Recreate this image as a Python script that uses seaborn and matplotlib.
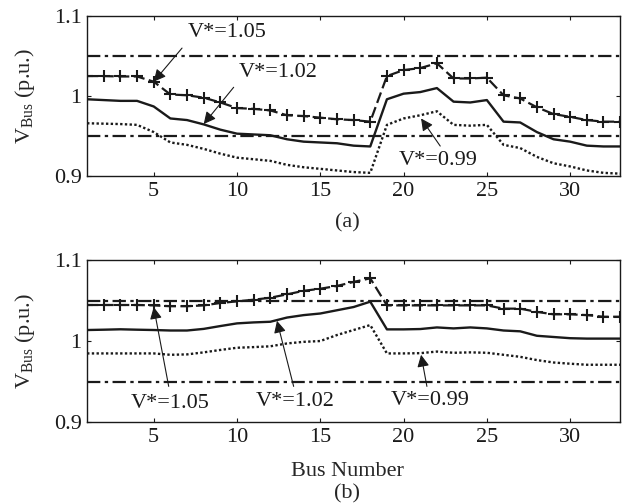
import numpy as np
import pandas as pd
import matplotlib
matplotlib.use("Agg")
import matplotlib.pyplot as plt
import seaborn as sns

bus = list(range(1, 34))

# Panel (a)
a_v105 = [1.025, 1.025, 1.0245, 1.0245, 1.018, 1.002, 1.001, 0.998, 0.992, 0.985, 0.984,
          0.982, 0.976, 0.975, 0.973, 0.971, 0.970, 0.968, 1.025, 1.0325, 1.035, 1.041,
          1.022, 1.022, 1.023, 1.001, 0.997, 0.986, 0.9775, 0.974, 0.970, 0.968, 0.968]
a_v102 = [0.996, 0.995, 0.994, 0.994, 0.987, 0.972, 0.970, 0.9646, 0.958, 0.953, 0.952,
          0.951, 0.946, 0.943, 0.942, 0.941, 0.938, 0.937, 0.996, 1.003, 1.005, 1.010,
          0.993, 0.992, 0.995, 0.968, 0.967, 0.955, 0.946, 0.943, 0.938, 0.937, 0.937]
a_v099 = [0.966, 0.9655, 0.965, 0.964, 0.955, 0.942, 0.939, 0.934, 0.928, 0.923, 0.921,
          0.919, 0.914, 0.911, 0.909, 0.907, 0.905, 0.904, 0.964, 0.972, 0.976, 0.981,
          0.964, 0.963, 0.964, 0.939, 0.935, 0.924, 0.916, 0.912, 0.907, 0.904, 0.903]

# Panel (b)
b_v105 = [1.0445, 1.0445, 1.0445, 1.0445, 1.044, 1.043, 1.043, 1.044, 1.047, 1.049, 1.051,
          1.0535, 1.0576, 1.062, 1.0646, 1.068, 1.073, 1.0774, 1.044, 1.044, 1.044, 1.044,
          1.044, 1.044, 1.044, 1.040, 1.040, 1.036, 1.033, 1.033, 1.032, 1.030, 1.030]
b_v102 = [1.0136, 1.014, 1.0145, 1.014, 1.0136, 1.013, 1.013, 1.015, 1.0185, 1.0218, 1.023,
          1.0238, 1.029, 1.032, 1.034, 1.038, 1.042, 1.0486, 1.0144, 1.0144, 1.0148, 1.0168,
          1.0156, 1.0168, 1.0156, 1.013, 1.012, 1.0065, 1.005, 1.0035, 1.003, 1.003, 1.003]
b_v099 = [0.9847, 0.9847, 0.9847, 0.9847, 0.9847, 0.983, 0.9835, 0.986, 0.989, 0.9917, 0.9925,
          0.9935, 0.997, 0.999, 1.0, 1.0074, 1.0136, 1.0197, 0.9847, 0.9847, 0.985, 0.987,
          0.9855, 0.986, 0.9855, 0.983, 0.9805, 0.9765, 0.9735, 0.972, 0.9707, 0.9707, 0.9707]

limits = [1.05, 0.95]
xticks = [5, 10, 15, 20, 25, 30]
yticks = [0.9, 1.0, 1.1]
ytick_labels = ["0.9", "1", "1.1"]

sns.set_theme(style="ticks")
plt.rcParams["font.family"] = ["Liberation Serif", "DejaVu Serif"]
plt.rcParams["mathtext.fontset"] = "custom"
plt.rcParams["mathtext.rm"] = "Liberation Serif"
plt.rcParams["mathtext.it"] = "Liberation Serif:italic"
plt.rcParams["xtick.direction"] = "in"
plt.rcParams["ytick.direction"] = "in"

fig = plt.figure(figsize=(6.22, 5.03), dpi=100)
ax1 = fig.add_axes([0.140, 0.650, 0.857, 0.318])
ax2 = fig.add_axes([0.140, 0.161, 0.857, 0.322])

FS = 16

def draw(ax, v105, v102, v099):
    df = pd.DataFrame({"bus": bus, "v105": v105, "v102": v102, "v099": v099})
    for lim in limits:
        ax.axhline(lim, color="k", lw=1.6, ls=(0, (6, 2, 1.5, 2)))
    sns.lineplot(data=df, x="bus", y="v105", ax=ax, color="k", lw=1.6,
                 linestyle=(0, (5, 2)), marker="+", markersize=8, mew=1.5,
                 markeredgecolor="k", markerfacecolor="k")
    sns.lineplot(data=df, x="bus", y="v102", ax=ax, color="k", lw=1.7)
    sns.lineplot(data=df, x="bus", y="v099", ax=ax, color="k", lw=1.7, linestyle=(0, (1, 1)))
    ax.set_xlim(1, 33)
    ax.set_ylim(0.9, 1.1)
    ax.set_xticks(xticks)
    ax.set_yticks(yticks)
    ax.set_yticklabels(ytick_labels)
    ax.tick_params(axis="both", labelsize=FS, length=3, width=0.8, top=True, right=True,
                   color="k", labelcolor="k", pad=4)
    for s in ax.spines.values():
        s.set_linewidth(1.0)
        s.set_color("k")
    ax.set_ylabel(r"$\mathrm{V}_{\mathrm{Bus}}$ (p.u.)", fontsize=FS, labelpad=12)
    ax.set_xlabel("")

draw(ax1, a_v105, a_v102, a_v099)
draw(ax2, b_v105, b_v102, b_v099)

arrow = dict(arrowstyle="-|>", color="k", lw=0.8, mutation_scale=18, shrinkA=0, shrinkB=0)

def note(ax, label, tx, ty, sx, sy, px, py):
    ax.text(tx, ty, label, ha="center", va="center", fontsize=FS, color="k")
    ax.annotate("", xy=(px, py), xytext=(sx, sy), arrowprops=arrow)

note(ax1, "V*=1.05", 9.4, 1.079, 6.7, 1.060, 5.0, 1.018)
note(ax1, "V*=1.02", 12.5, 1.029, 9.8, 1.011, 8.0, 0.965)
note(ax1, "V*=0.99", 22.1, 0.919, 22.2, 0.9375, 21.05, 0.972)

note(ax2, "V*=1.05", 6.0, 0.923, 5.9, 0.944, 5.0, 1.042)
note(ax2, "V*=1.02", 13.5, 0.925, 13.4, 0.944, 12.4, 1.025)
note(ax2, "V*=0.99", 21.6, 0.926, 21.4, 0.944, 21.05, 0.983)

fig.text(0.558, 1 - 223 / 503, "(a)", ha="center", va="center", fontsize=FS)
fig.text(0.558, 1 - 472 / 503, "Bus Number", ha="center", va="center", fontsize=FS)
fig.text(0.558, 1 - 494 / 503, "(b)", ha="center", va="center", fontsize=FS)

fig.savefig("out.png", dpi=100)
